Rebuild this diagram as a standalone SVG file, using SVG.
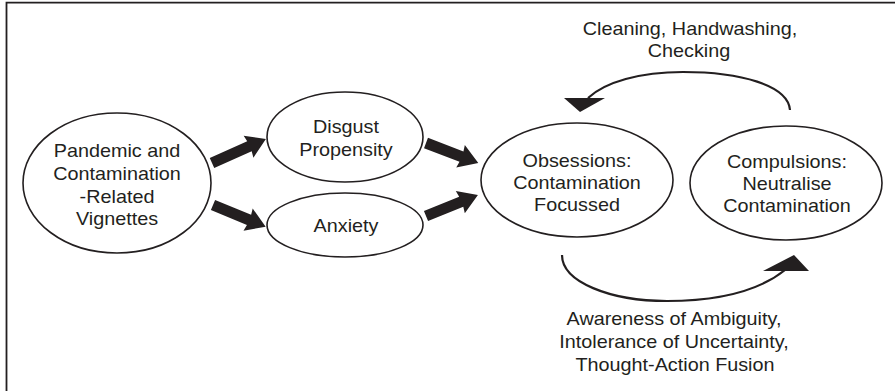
<svg xmlns="http://www.w3.org/2000/svg" width="895" height="391" viewBox="0 0 895 391">
<style>
.node ellipse{fill:#fff;stroke:#231f20;stroke-width:1.6}
text{font-family:"Liberation Sans",Arial,sans-serif;font-size:18px;fill:#231f20;text-anchor:middle}
.thick{fill:#231f20}
.curve{fill:none;stroke:#231f20;stroke-width:2.2}
.frame{stroke:#231f20;stroke-width:1.8;fill:none}
</style>
<rect width="895" height="391" fill="#fff"/>
<path class="frame" d="M6.5,391 V2.7 H895"/>
<g id="connectors">
<polygon class="thick" transform="translate(212,163) rotate(-24)" points="0,-5.5 41,-5.5 40,-12 59,0 40,12 41,5.5 0,5.5"/>
<polygon class="thick" transform="translate(213,205) rotate(22.5)" points="0,-5.5 39,-5.5 38,-12 57,0 38,12 39,5.5 0,5.5"/>
<polygon class="thick" transform="translate(426,143) rotate(21)" points="0,-5.5 38,-5.5 37,-12 56,0 37,12 38,5.5 0,5.5"/>
<polygon class="thick" transform="translate(426,216) rotate(-22)" points="0,-5.5 38,-5.5 37,-12 56,0 37,12 38,5.5 0,5.5"/>
<path class="curve" d="M790,110 C788,85 740,72 683,72 C640,72 605,82 588,98"/>
<polygon class="thick" points="564,98 605,98 580,112"/>
<path class="curve" d="M562,255 C562,282 610,301 667,301 C720,301 760,290 785,270"/>
<polygon class="thick" points="763,271 809,271 794,255"/>
<text transform="translate(690,0) scale(1.1,1)" x="0" y="35">Cleaning, Handwashing,</text>
<text transform="translate(689,0) scale(1.1,1)" x="0" y="57">Checking</text>
<text transform="translate(674,0) scale(1.1,1)" x="0" y="325">Awareness of Ambiguity,</text>
<text transform="translate(674,0) scale(1.1,1)" x="0" y="348">Intolerance of Uncertainty,</text>
<text transform="translate(675,0) scale(1.1,1)" x="0" y="371">Thought-Action Fusion</text>
</g>
<g id="vignettes" class="node">
<ellipse cx="117" cy="183" rx="94" ry="70"/>
<text transform="translate(117,0) scale(1.1,1)" x="0" y="157">Pandemic and</text>
<text transform="translate(117,0) scale(1.1,1)" x="0" y="180">Contamination</text>
<text transform="translate(117,0) scale(1.1,1)" x="0" y="203">-Related</text>
<text transform="translate(117,0) scale(1.1,1)" x="0" y="225">Vignettes</text>
</g>
<g id="disgust" class="node">
<ellipse cx="345" cy="137" rx="78" ry="45"/>
<text transform="translate(346,0) scale(1.1,1)" x="0" y="133">Disgust</text>
<text transform="translate(346,0) scale(1.1,1)" x="0" y="156">Propensity</text>
</g>
<g id="anxiety" class="node">
<ellipse cx="345" cy="225" rx="78" ry="32"/>
<text transform="translate(346,0) scale(1.1,1)" x="0" y="232">Anxiety</text>
</g>
<g id="obsessions" class="node">
<ellipse cx="577" cy="180" rx="96" ry="57"/>
<text transform="translate(577,0) scale(1.1,1)" x="0" y="167">Obsessions:</text>
<text transform="translate(577,0) scale(1.1,1)" x="0" y="189">Contamination</text>
<text transform="translate(577,0) scale(1.1,1)" x="0" y="211">Focussed</text>
</g>
<g id="compulsions" class="node">
<ellipse cx="786" cy="183" rx="96" ry="57"/>
<text transform="translate(787,0) scale(1.1,1)" x="0" y="168">Compulsions:</text>
<text transform="translate(787,0) scale(1.1,1)" x="0" y="190">Neutralise</text>
<text transform="translate(787,0) scale(1.1,1)" x="0" y="212">Contamination</text>
</g>
</svg>
